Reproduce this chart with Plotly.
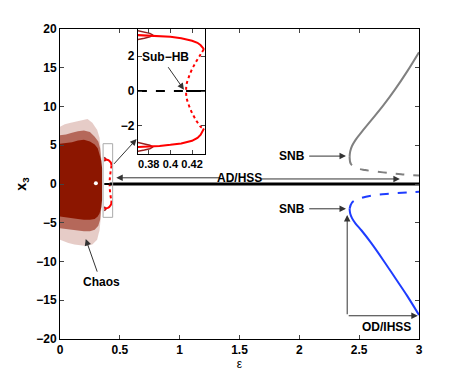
import plotly.graph_objects as go

# chaotic attractor envelope (eps, x3)
fringe_eps = [0, 0.04, 0.09, 0.14, 0.19, 0.23, 0.27, 0.31, 0.33, 0.34, 0.34, 0.33, 0.31, 0.27, 0.22, 0.17, 0.12, 0.07, 0.03, 0]
fringe_x3 = [7.4, 7.7, 7.9, 8.1, 8.3, 8.4, 7.9, 7.0, 6.0, 4.5, -4.5, -6.0, -7.2, -7.8, -8.0, -7.9, -7.8, -7.6, -7.4, -7.2]
mid_eps = [0, 0.05, 0.1, 0.15, 0.2, 0.25, 0.29, 0.32, 0.335, 0.345, 0.345, 0.335, 0.32, 0.29, 0.25, 0.2, 0.15, 0.1, 0.05, 0]
mid_x3 = [6.3, 6.4, 6.6, 6.8, 6.9, 6.7, 6.1, 5.5, 4.6, 3.2, -3.2, -4.6, -5.4, -5.9, -6.1, -6.1, -6.0, -5.9, -5.8, -5.7]
core_eps = [0, 0.05, 0.1, 0.15, 0.2, 0.25, 0.29, 0.315, 0.33, 0.345, 0.352, 0.352, 0.345, 0.33, 0.315, 0.29, 0.25, 0.2, 0.15, 0.1, 0.05, 0]
core_x3 = [5.2, 5.3, 5.4, 5.6, 5.7, 5.5, 5.1, 4.6, 3.8, 3.0, 2.0, -2.0, -3.0, -3.8, -4.2, -4.5, -4.6, -4.6, -4.5, -4.4, -4.3, -4.2]

# periodic branches near the sub-HB point
po_eps = [0.37, 0.38, 0.39, 0.40, 0.41, 0.42, 0.425, 0.428, 0.431]
po_top = [3.2, 3.18, 3.15, 3.1, 3.02, 2.88, 2.76, 2.62, 2.4]
po_bot = [-3.2, -3.18, -3.14, -3.08, -3.0, -2.85, -2.68, -2.5, -2.15]
upo_eps = [0.431, 0.428, 0.424, 0.42, 0.417, 0.415, 0.4145, 0.415, 0.417, 0.42, 0.424, 0.428, 0.431]
upo_x3 = [2.4, 2.1, 1.7, 1.25, 0.8, 0.4, 0.0, -0.4, -0.8, -1.25, -1.7, -2.05, -2.15]
loop_eps = [0.37, 0.376, 0.381, 0.384, 0.381, 0.376, 0.37]
loop_top = [3.45, 3.38, 3.3, 3.2, 3.1, 3.02, 2.95]
loop_bot = [-2.95, -3.02, -3.1, -3.2, -3.3, -3.38, -3.45]

# steady states
hss_eps_unstable = [0.37, 0.4145]
hss_eps_stable = [0.4145, 3.0]
hss_x3 = [0, 0]
ihss_up_eps = [2.42, 2.425, 2.44, 2.47, 2.52, 2.6, 2.7, 2.8, 2.9, 3.0]
ihss_up_x3 = [3.5, 4.2, 4.9, 5.7, 6.7, 8.2, 10.1, 12.2, 14.5, 17.0]
ihss_up_u_eps = [2.42, 2.43, 2.47, 2.55, 2.7, 2.85, 3.0]
ihss_up_u_x3 = [3.5, 2.6, 2.1, 1.8, 1.5, 1.25, 1.1]
ihss_dn_eps = [2.42, 2.425, 2.44, 2.47, 2.52, 2.6, 2.7, 2.8, 2.9, 3.0]
ihss_dn_x3 = [-3.2, -3.8, -4.4, -5.1, -6.0, -7.6, -9.8, -12.1, -14.4, -16.9]
ihss_dn_u_eps = [2.42, 2.44, 2.5, 2.6, 2.75, 2.9, 3.0]
ihss_dn_u_x3 = [-3.2, -2.4, -1.9, -1.5, -1.25, -1.1, -1.0]

chaos_col = "rgb(140,22,0)"
fnt = dict(family="Liberation Sans", size=12, color="black", weight="bold")

fig = go.Figure()


def add_branches(xa, ya):
    fig.add_trace(go.Scatter(x=loop_eps, y=loop_top, mode="lines", line=dict(color="rgb(150,30,30)", width=1.5), xaxis=xa, yaxis=ya))
    fig.add_trace(go.Scatter(x=loop_eps, y=loop_bot, mode="lines", line=dict(color="rgb(150,30,30)", width=1.5), xaxis=xa, yaxis=ya))
    fig.add_trace(go.Scatter(x=po_eps, y=po_top, mode="lines", line=dict(color="red", width=2), xaxis=xa, yaxis=ya))
    fig.add_trace(go.Scatter(x=po_eps, y=po_bot, mode="lines", line=dict(color="red", width=2), xaxis=xa, yaxis=ya))
    fig.add_trace(go.Scatter(x=upo_eps, y=upo_x3, mode="lines", line=dict(color="red", width=2, dash="dot", shape="spline"), xaxis=xa, yaxis=ya))
    fig.add_trace(go.Scatter(x=hss_eps_unstable, y=hss_x3, mode="lines", line=dict(color="black", width=2, dash="dash"), xaxis=xa, yaxis=ya))


# chaos cloud
fig.add_trace(go.Scatter(x=fringe_eps, y=fringe_x3, fill="toself", fillcolor="rgba(140,22,0,0.22)", line=dict(width=0), mode="lines"))
fig.add_trace(go.Scatter(x=mid_eps, y=mid_x3, fill="toself", fillcolor="rgba(140,22,0,0.55)", line=dict(width=0), mode="lines"))
fig.add_trace(go.Scatter(x=core_eps, y=core_x3, fill="toself", fillcolor=chaos_col, line=dict(width=0), mode="lines"))
fig.add_trace(go.Scatter(x=[0.3], y=[0.1], mode="markers", marker=dict(color="white", size=4)))

add_branches("x", "y")
fig.add_trace(go.Scatter(x=hss_eps_stable, y=hss_x3, mode="lines", line=dict(color="black", width=3)))
fig.add_trace(go.Scatter(x=ihss_up_eps, y=ihss_up_x3, mode="lines", line=dict(color="gray", width=2, shape="spline")))
fig.add_trace(go.Scatter(x=ihss_up_u_eps, y=ihss_up_u_x3, mode="lines", line=dict(color="gray", width=2, dash="dash", shape="spline")))
fig.add_trace(go.Scatter(x=ihss_dn_eps, y=ihss_dn_x3, mode="lines", line=dict(color="rgb(30,60,255)", width=2, shape="spline")))
fig.add_trace(go.Scatter(x=ihss_dn_u_eps, y=ihss_dn_u_x3, mode="lines", line=dict(color="rgb(30,60,255)", width=2, dash="dash", shape="spline")))

# inset
add_branches("x2", "y2")
fig.add_trace(go.Scatter(x=hss_eps_stable, y=hss_x3, mode="lines", line=dict(color="black", width=2), xaxis="x2", yaxis="y2"))

fig.add_shape(type="rect", x0=0.36, x1=0.44, y0=-4.3, y1=5.2, xref="x", yref="y", line=dict(color="#aaaaaa", width=1))

arr = dict(showarrow=True, arrowhead=2, arrowsize=1.3, arrowwidth=1, arrowcolor="#333", axref="x", ayref="y", text="")
notes = [
    dict(x=0.64, y=5.8, ax=0.44, ay=2.4),
    dict(x=0.47, y=0.8, ax=1.35, ay=0.8),
    dict(x=2.84, y=0.65, ax=1.67, ay=0.65),
    dict(x=2.39, y=3.6, ax=2.07, ay=3.6),
    dict(x=2.39, y=-3.2, ax=2.07, ay=-3.2),
    dict(x=2.4, y=-4.0, ax=2.4, ay=-17.0),
    dict(x=2.99, y=-17.0, ax=2.4, ay=-17.0),
    dict(x=0.215, y=-7.1, ax=0.315, ay=-11.5),
]
for n in notes:
    fig.add_annotation(**arr, **n)
fig.add_annotation(x=2.06, y=-3.2, text="SNB", showarrow=False, font=fnt, xanchor="right")
fig.add_annotation(x=2.06, y=3.6, text="SNB", showarrow=False, font=fnt, xanchor="right")
fig.add_annotation(x=1.5, y=0.8, text="AD/HSS", showarrow=False, font=fnt)
fig.add_annotation(x=2.73, y=-18.5, text="OD/IHSS", showarrow=False, font=fnt)
fig.add_annotation(x=0.35, y=-12.6, text="Chaos", showarrow=False, font=fnt)
fig.add_annotation(x=0.3955, y=1.95, text="Sub\u2212HB", showarrow=False, font=fnt, xref="x2", yref="y2")
fig.add_annotation(x=0.4125, y=0.08, ax=0.397, ay=1.45, xref="x2", yref="y2", axref="x2", ayref="y2",
                   showarrow=True, arrowhead=2, arrowsize=1.3, arrowwidth=1, arrowcolor="#333", text="")

ax_style = dict(showline=True, linecolor="black", linewidth=1, mirror="ticks", ticks="inside", ticklen=4,
                showgrid=False, zeroline=False, automargin=False)
fnt_small = dict(family="Liberation Sans", size=11, color="black", weight="bold")
fig.update_layout(
    width=455, height=374, margin=dict(l=52, r=44, t=21, b=43),
    plot_bgcolor="white", paper_bgcolor="white", showlegend=False,
    xaxis=dict(range=[0, 3], tickvals=[0, 0.5, 1, 1.5, 2, 2.5, 3], ticktext=["0", "0.5", "1", "1.5", "2", "2.5", "3"],
               tickfont=fnt, title=dict(text="\u03b5", font=dict(family="Liberation Sans", size=12, color="black"), standoff=2), **ax_style),
    yaxis=dict(range=[-20, 20], tickvals=[-20, -15, -10, -5, 0, 5, 10, 15, 20], tickfont=fnt,
               title=dict(text="x<sub>3</sub>", font=dict(family="Liberation Sans", size=14, color="black", weight="bold"), standoff=6), **ax_style),
    xaxis2=dict(domain=[0.217, 0.404], anchor="y2", range=[0.37, 0.432], tickvals=[0.38, 0.4, 0.42],
                ticktext=["0.38", "0.4", "0.42"], tickangle=0, tickfont=fnt_small, **ax_style),
    yaxis2=dict(domain=[0.597, 1.0], anchor="x2", range=[-3.6, 3.55], tickvals=[-2, 0, 2], tickfont=fnt, **ax_style),
)
fig.write_html("out.html")
